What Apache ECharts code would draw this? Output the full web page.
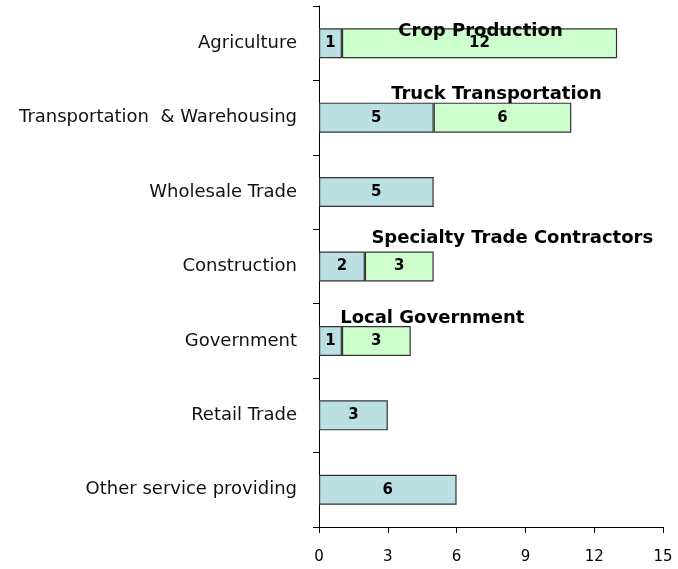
<!DOCTYPE html>
<html>
<head>
<meta charset="utf-8">
<script src="https://cdn.jsdelivr.net/npm/echarts@6/dist/echarts.min.js"></script>
<style>
  html, body { margin: 0; padding: 0; background: #fff; }
  #main { width: 678px; height: 569px; }
</style>
</head>
<body>
<div id="main"></div>
<script>
// data
var categories = ['Agriculture', 'Transportation  & Warehousing', 'Wholesale Trade', 'Construction', 'Government', 'Retail Trade', 'Other service providing'];
var sectorCounts = [1, 5, 5, 2, 1, 3, 6];
var subsectorCounts = [12, 6, null, 3, 3, null, null];
var subsectorNames = ['Crop Production', 'Truck Transportation', '', 'Specialty Trade Contractors', 'Local Government', '', ''];
var xMin = 0, xMax = 15, xStep = 3;

// where the subsector name sits relative to the middle of its green bar (px)
var nameOffsets = [[1, -12], [-6, -23], [0, 0], [113, -28], [56, -23], [0, 0], [0, 0]];

var nameData = [];
subsectorNames.forEach(function (n, i) {
  if (!n) return;
  nameData.push({
    name: n,
    value: [sectorCounts[i] + subsectorCounts[i] / 2, categories[i]],
    label: { offset: nameOffsets[i] }
  });
});

var barBorder = { borderColor: '#333', borderWidth: 1.2 };
var numLabel = {
  show: true,
  position: 'inside',
  color: '#000',
  textBorderWidth: 0,
  fontFamily: 'DejaVu Sans',
  fontWeight: 'bold',
  fontSize: 15
};

var myChart = echarts.init(document.getElementById('main'));
var option = {
  animation: false,
  backgroundColor: '#fff',
  grid: { left: 319, right: 15, top: 6, bottom: 42 },
  xAxis: {
    type: 'value',
    min: xMin,
    max: xMax,
    interval: xStep,
    splitLine: { show: false },
    axisLine: { show: true, lineStyle: { color: '#000', width: 1 } },
    axisTick: { show: true, length: 6, lineStyle: { color: '#000' } },
    axisLabel: { color: '#000', fontFamily: 'DejaVu Sans', fontSize: 15, margin: 23 }
  },
  yAxis: {
    type: 'category',
    data: categories,
    inverse: true,
    axisLine: { show: true, lineStyle: { color: '#000', width: 1 } },
    axisTick: { show: true, length: 6, lineStyle: { color: '#000' } },
    axisLabel: { color: '#111', fontFamily: 'DejaVu Sans', fontSize: 18, margin: 22 }
  },
  series: [
    {
      name: 'Sector',
      type: 'bar',
      stack: 'total',
      barWidth: 30,
      data: sectorCounts,
      itemStyle: Object.assign({ color: '#BBE0E3' }, barBorder),
      label: numLabel
    },
    {
      name: 'Subsector',
      type: 'bar',
      stack: 'total',
      barWidth: 30,
      data: subsectorCounts,
      itemStyle: Object.assign({ color: '#CCFFCC' }, barBorder),
      label: numLabel
    },
    {
      name: 'Subsector name',
      type: 'scatter',
      symbolSize: 0,
      data: nameData,
      z: 5,
      itemStyle: { opacity: 1 },
      label: {
        show: true,
        position: 'inside',
        formatter: '{b}',
        color: '#000',
        textBorderWidth: 0,
        fontFamily: 'DejaVu Sans',
        fontWeight: 'bold',
        fontSize: 18
      }
    }
  ]
};
myChart.setOption(option);
</script>
</body>
</html>
